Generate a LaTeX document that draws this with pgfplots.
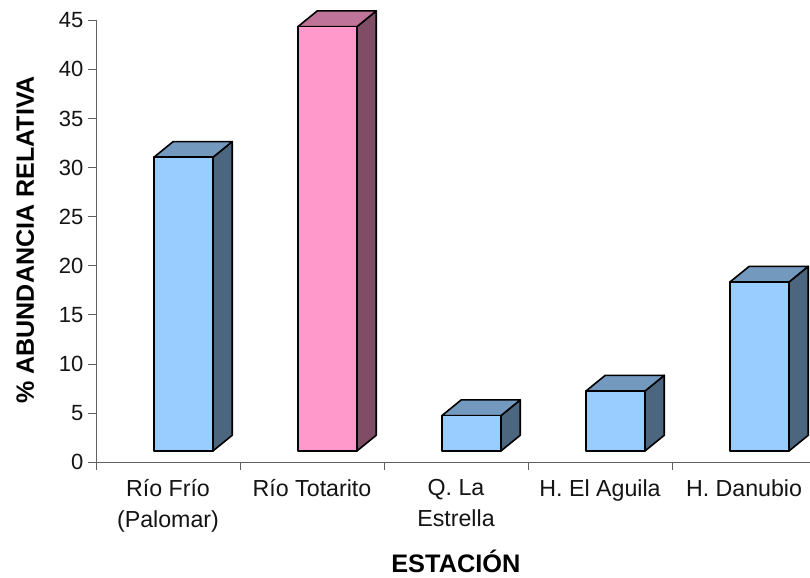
\documentclass[border=0pt]{standalone}
\usepackage{pgfplots}
\pgfplotsset{compat=1.18}
\usepackage{fontspec}
\setmainfont{Liberation Sans}

\definecolor{frontblue}{HTML}{99CCFF}
\definecolor{topblue}{HTML}{7399BF}
\definecolor{sideblue}{HTML}{4D6680}
\definecolor{frontpink}{HTML}{FF99CC}
\definecolor{toppink}{HTML}{BF7399}
\definecolor{sidepink}{HTML}{804D66}
\definecolor{axisgray}{HTML}{606060}

% Floor of the box (data units) and the oblique depth of each box
\def\barbase{1.15}
\def\barw{0.41}
\def\depthx{0.134}
\def\depthy{1.6}

% One box: #1 left edge, #2 value, #3 colour family (blue or pink)
\newcommand\boxbar[3]{%
  \pgfmathsetmacro\xa{#1}%
  \pgfmathsetmacro\xb{#1+\barw}%
  \pgfmathsetmacro\xc{#1+\barw+\depthx}%
  \pgfmathsetmacro\xd{#1+\depthx}%
  \pgfmathsetmacro\ya{\barbase}%
  \pgfmathsetmacro\yb{\barbase+#2}%
  \pgfmathsetmacro\yc{\barbase+#2+\depthy}%
  \pgfmathsetmacro\ye{\barbase+\depthy}%
  \addplot[draw=black, line width=1.2pt, line join=round, fill=side#3]
    coordinates {(\xb,\ya) (\xc,\ye) (\xc,\yc) (\xb,\yb)} -- cycle;
  \addplot[draw=black, line width=1.2pt, line join=round, fill=top#3]
    coordinates {(\xa,\yb) (\xd,\yc) (\xc,\yc) (\xb,\yb)} -- cycle;
  \addplot[draw=black, line width=1.2pt, line join=round, fill=front#3]
    coordinates {(\xa,\ya) (\xb,\ya) (\xb,\yb) (\xa,\yb)} -- cycle;
}

\begin{document}
\begin{tikzpicture}
\path[use as bounding box] (0,0) rectangle (607.5pt,433.5pt);
\begin{axis}[
  at={(72pt,86.8pt)}, anchor=south west,
  scale only axis, width=535.5pt, height=331.5pt,
  xmin=0, xmax=4.958, ymin=0, ymax=45,
  clip=false,
  axis x line=bottom, axis y line=left,
  axis line style={draw=axisgray, line width=0.75pt, -},
  ytick={0,5,...,45},
  xtick={0.5,1.5,2.5,3.5,4.5},
  xticklabels={R\'{\i}o Fr\'{\i}o\\(Palomar),R\'{\i}o Totarito,Q. La\\Estrella,H. El Aguila,H. Danubio},
  minor xtick={0,1,2,3,4},
  major tick length=6pt, minor tick length=6pt,
  x tick style={draw=none},
  minor x tick style={draw=axisgray, line width=0.75pt},
  tick align=outside,
  y tick style={draw=axisgray, line width=0.75pt},
  y tick label style={font=\fontsize{16.5}{20}\selectfont, text=black!92},
  x tick label style={font=\fontsize{17.4}{23}\selectfont, text=black!92, align=center, anchor=north, yshift=-3.5pt},
  /pgf/number format/assume math mode=true,
  xlabel={ESTACI\'ON},
  ylabel={\% ABUNDANCIA RELATIVA},
  xlabel style={font=\fontsize{19}{22}\selectfont\bfseries, at={(axis description cs:0.504,0)}, anchor=base, yshift=-83pt},
  ylabel style={font=\fontsize{18.8}{22}\selectfont\bfseries, at={(axis description cs:0,0.5)}, anchor=center, yshift=53pt, xshift=1.1pt},
]
\boxbar{0.402}{29.9}{blue}
\boxbar{1.402}{43.2}{pink}
\boxbar{2.402}{3.6}{blue}
\boxbar{3.402}{6.1}{blue}
\boxbar{4.402}{17.2}{blue}
\end{axis}
\end{tikzpicture}
\end{document}
